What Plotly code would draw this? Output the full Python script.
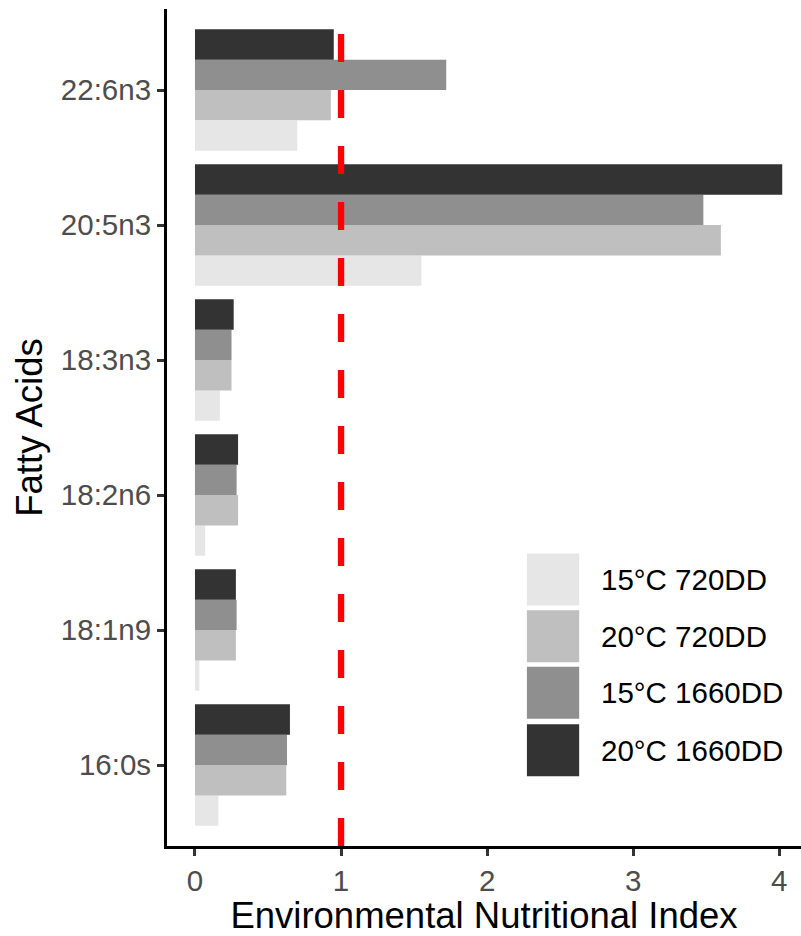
import plotly.graph_objects as go

# Fatty acids, listed bottom-to-top as they appear on the axis
fatty_acids = ["16:0s", "18:1n9", "18:2n6", "18:3n3", "20:5n3", "22:6n3"]

# Environmental Nutritional Index per treatment
eni_15c_720dd = [0.16, 0.03, 0.07, 0.17, 1.55, 0.70]
eni_20c_720dd = [0.625, 0.28, 0.295, 0.25, 3.60, 0.93]
eni_15c_1660dd = [0.63, 0.285, 0.285, 0.25, 3.48, 1.72]
eni_20c_1660dd = [0.65, 0.28, 0.295, 0.265, 4.02, 0.95]

series_names = ["15°C 720DD", "20°C 720DD", "15°C 1660DD", "20°C 1660DD"]
series_values = [eni_15c_720dd, eni_20c_720dd, eni_15c_1660dd, eni_20c_1660dd]
series_colors = ["#e6e6e6", "#bfbfbf", "#8f8f8f", "#333333"]

reference_index = 1.0
x_tick_values = [0, 1, 2, 3, 4]

FONT = "Liberation Sans, Arial, sans-serif"
TICK_SIZE = 29.5
TITLE_SIZE = 36.5
W, H = 801, 936
M_L, M_R, M_T, M_B = 166.5, 0, 9, 90.2
plot_w = W - M_L - M_R
plot_h = H - M_T - M_B


def px_to_paper_x(px):
    return (px - M_L) / plot_w


def px_to_paper_y(py):
    return (H - M_B - py) / plot_h


fig = go.Figure()
for name, vals, color in zip(series_names, series_values, series_colors):
    fig.add_trace(go.Bar(
        y=fatty_acids, x=vals, orientation="h", name=name,
        marker=dict(color=color, line=dict(width=0)),
        showlegend=False,
    ))

# dashed reference line at ENI = 1
fig.add_shape(type="line", xref="x", yref="paper",
              x0=reference_index, x1=reference_index, y0=0, y1=1,
              line=dict(color="#ff0000", width=6.3, dash="28px,28px"),
              layer="above")

# legend keys and labels
key_x0, key_x1 = 526.7, 579.0
key_tops = [553.3, 610.0, 666.7, 724.0]
key_size = 52.0
for name, color, top in zip(series_names, series_colors, key_tops):
    fig.add_shape(type="rect", xref="paper", yref="paper",
                  x0=px_to_paper_x(key_x0), x1=px_to_paper_x(key_x1),
                  y0=px_to_paper_y(top + key_size), y1=px_to_paper_y(top),
                  fillcolor=color, line=dict(width=0), layer="above")
    fig.add_annotation(xref="paper", yref="paper",
                       x=px_to_paper_x(599), y=px_to_paper_y(top + key_size / 2),
                       text=name, showarrow=False, xanchor="left", yanchor="middle",
                       font=dict(family=FONT, size=TICK_SIZE, color="#000000"))

# x range: 0 sits at 194.5 px, 146.2 px per unit
x_lo = (M_L - 194.5) / 146.2
x_hi = (W - M_R - 194.5) / 146.2

fig.update_layout(
    width=W, height=H,
    margin=dict(l=M_L, r=M_R, t=M_T, b=M_B, pad=0),
    paper_bgcolor="white", plot_bgcolor="white",
    barmode="group", bargap=0.1, bargroupgap=0,
    font=dict(family=FONT),
    xaxis=dict(
        range=[x_lo, x_hi], tickvals=x_tick_values,
        showgrid=False, zeroline=False,
        showline=True, linecolor="#000000", linewidth=3,
        ticks="outside", ticklen=7, tickwidth=2.5, tickcolor="#333333",
        tickfont=dict(family=FONT, size=TICK_SIZE, color="#4d4d4d"),
        title=dict(text="Environmental Nutritional Index",
                   font=dict(family=FONT, size=TITLE_SIZE, color="#000000"), standoff=4),
    ),
    yaxis=dict(
        type="category", categoryorder="array", categoryarray=fatty_acids,
        range=[-0.6, 5.6],
        showgrid=False, zeroline=False,
        showline=True, linecolor="#000000", linewidth=3,
        ticks="outside", ticklen=7, tickwidth=2.5, tickcolor="#333333",
        tickfont=dict(family=FONT, size=TICK_SIZE, color="#4d4d4d"),
        title=dict(text="Fatty Acids",
                   font=dict(family=FONT, size=TITLE_SIZE, color="#000000"), standoff=8),
    ),
)

fig.write_html("out.html")
